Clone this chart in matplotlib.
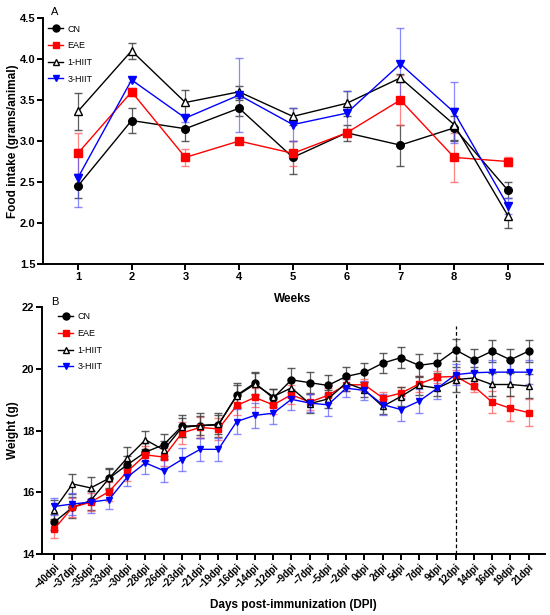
import matplotlib
matplotlib.use("Agg")
import matplotlib.pyplot as plt
from matplotlib.lines import Line2D
import numpy as np

plt.rcParams['font.family'] = ['Liberation Sans', 'DejaVu Sans']

# ---------------- Panel A data ----------------
weeks = [1, 2, 3, 4, 5, 6, 7, 8, 9]
cn_a = [2.45, 3.25, 3.15, 3.40, 2.80, 3.10, 2.95, 3.16, 2.40]
cn_a_err = [0.15, 0.15, 0.15, 0.10, 0.20, 0.10, 0.25, 0.15, 0.10]
eae_a = [2.85, 3.60, 2.80, 3.00, 2.85, 3.10, 3.50, 2.80, 2.75]
eae_a_err = [0.25, 0.05, 0.10, 0.03, 0.15, 0.05, 0.30, 0.30, 0.05]
h1_a = [3.36, 4.10, 3.47, 3.60, 3.30, 3.46, 3.77, 3.20, 2.09]
h1_a_err = [0.23, 0.10, 0.15, 0.07, 0.10, 0.15, 0.05, 0.20, 0.15]
h3_a = [2.55, 3.745, 3.28, 3.56, 3.20, 3.34, 3.94, 3.35, 2.21]
h3_a_err = [0.35, 0.03, 0.05, 0.45, 0.20, 0.27, 0.44, 0.37, 0.10]

# ---------------- Panel B data ----------------
dpi_labels = ["−40dpi", "−37dpi", "−35dpi", "−33dpi", "−30dpi", "−28dpi", "−26dpi",
              "−23dpi", "−21dpi", "−19dpi", "−16dpi", "−14dpi", "−12dpi", "−9dpi",
              "−7dpi", "−5dpi", "−2dpi", "0dpi", "2dpi", "5dpi", "7dpi", "9dpi",
              "12dpi", "14dpi", "16dpi", "19dpi", "21dpi"]
cn_b = [15.03, 15.51, 15.73, 16.45, 16.89, 17.30, 17.54, 18.14, 18.16, 18.18, 19.14, 19.54,
        19.05, 19.64, 19.55, 19.46, 19.75, 19.88, 20.18, 20.36, 20.11, 20.19, 20.61, 20.29,
        20.57, 20.29, 20.57]
cn_b_err = [0.25, 0.35, 0.30, 0.30, 0.30, 0.30, 0.35, 0.35, 0.40, 0.40, 0.40, 0.35, 0.30,
            0.40, 0.35, 0.35, 0.30, 0.30, 0.32, 0.35, 0.37, 0.32, 0.35, 0.35, 0.35, 0.35, 0.35]
eae_b = [14.81, 15.51, 15.68, 16.02, 16.67, 17.21, 17.14, 17.92, 18.10, 18.05, 18.81, 19.07,
         18.83, 19.16, 18.92, 19.14, 19.48, 19.48, 19.06, 19.21, 19.51, 19.73, 19.75, 19.43,
         18.92, 18.72, 18.58]
eae_b_err = [0.28, 0.30, 0.30, 0.30, 0.30, 0.30, 0.30, 0.35, 0.35, 0.35, 0.30, 0.30, 0.30,
             0.30, 0.25, 0.25, 0.20, 0.20, 0.20, 0.20, 0.25, 0.20, 0.20, 0.18, 0.35, 0.41, 0.45]
h1_b = [15.44, 16.27, 16.14, 16.45, 17.11, 17.70, 17.37, 18.10, 18.16, 18.20, 19.12, 19.50,
        19.10, 19.38, 18.87, 19.02, 19.54, 19.32, 18.78, 19.10, 19.46, 19.37, 19.65, 19.70,
        19.49, 19.49, 19.44]
h1_b_err = [0.30, 0.32, 0.35, 0.35, 0.35, 0.30, 0.30, 0.30, 0.30, 0.30, 0.35, 0.35, 0.25,
            0.30, 0.30, 0.30, 0.25, 0.25, 0.25, 0.30, 0.30, 0.25, 0.40, 0.35, 0.38, 0.38, 0.38]
h3_b = [15.54, 15.62, 15.68, 15.76, 16.49, 16.95, 16.70, 17.06, 17.39, 17.39, 18.29, 18.49,
        18.56, 19.01, 18.89, 18.83, 19.37, 19.30, 18.84, 18.68, 18.95, 19.37, 19.81, 19.87,
        19.89, 19.89, 19.89]
h3_b_err = [0.27, 0.35, 0.35, 0.30, 0.30, 0.36, 0.36, 0.38, 0.38, 0.38, 0.40, 0.40, 0.35,
            0.35, 0.30, 0.35, 0.30, 0.30, 0.35, 0.38, 0.38, 0.35, 0.35, 0.35, 0.40, 0.40, 0.40]
vline_label = "12dpi"

series_names = ["CN", "EAE", "1-HIIT", "3-HIIT"]

styles = {
    "CN": dict(color="black", marker="o", mfc="black", ecolor=(0.25, 0.25, 0.25, 0.85)),
    "EAE": dict(color="#ff0000", marker="s", mfc="#ff0000", ecolor=(1.0, 0.35, 0.35, 0.75)),
    "1-HIIT": dict(color="black", marker="^", mfc="white", ecolor=(0.25, 0.25, 0.25, 0.85)),
    "3-HIIT": dict(color="#0000ff", marker="v", mfc="#0000ff", ecolor=(0.35, 0.35, 1.0, 0.7)),
}

fig = plt.figure(figsize=(5.5, 6.15), dpi=100)
axA = fig.add_axes([0.078, 0.5707, 0.909, 0.400])
axB = fig.add_axes([0.0764, 0.0992, 0.9145, 0.4016])


def draw(ax, x, data, ms):
    for name, (y, e) in zip(series_names, data):
        st = styles[name]
        ax.errorbar(x, y, yerr=e, color=st["color"], marker=st["marker"],
                    mfc=st["mfc"], mec=st["color"], ms=ms, mew=1.0, lw=1.0,
                    ecolor=st["ecolor"], elinewidth=0.9, capsize=3, capthick=0.9,
                    zorder=3)


def style_axes(ax):
    for s in ["top", "right"]:
        ax.spines[s].set_visible(False)
    for s in ["left", "bottom"]:
        ax.spines[s].set_linewidth(1.4)
    ax.tick_params(axis="both", width=1.4, length=4, direction="out", pad=1.5)
    for lab in ax.get_yticklabels() + ax.get_xticklabels():
        lab.set_fontweight("bold")


def add_legend(ax, anchor):
    handles = []
    for name in series_names:
        st = styles[name]
        handles.append(Line2D([], [], color=st["color"], marker=st["marker"],
                              mfc=st["mfc"], mec=st["color"], ms=5, lw=1.0))
    ax.legend(handles, series_names, loc="upper left", bbox_to_anchor=anchor,
              bbox_transform=fig.transFigure, frameon=False, fontsize=6.5,
              handlelength=1.6, handletextpad=0.5, labelspacing=0.85,
              borderpad=0, borderaxespad=0)


# ---- Panel A ----
draw(axA, weeks, [(cn_a, cn_a_err), (eae_a, eae_a_err), (h1_a, h1_a_err), (h3_a, h3_a_err)], 5.5)
axA.set_xlim(0.35, 9.65)
axA.set_ylim(1.5, 4.5)
axA.set_xticks(weeks)
axA.set_yticks(np.arange(1.5, 4.51, 0.5))
axA.set_yticklabels([f"{v:.1f}" for v in np.arange(1.5, 4.51, 0.5)], fontsize=8)
axA.set_xticklabels([str(w) for w in weeks], fontsize=8)
axA.set_xlabel("Weeks", fontsize=8.5, fontweight="bold", labelpad=8)
axA.set_ylabel("Food intake (grams/animal)", fontsize=8.5, fontweight="bold")
axA.yaxis.set_label_coords(-0.048, 0.5)
style_axes(axA)
add_legend(axA, (0.088, 0.960))
fig.text(0.100, 0.980, "A", fontsize=8, ha="center", va="center")

# ---- Panel B ----
xb = np.arange(len(dpi_labels))
draw(axB, xb, [(cn_b, cn_b_err), (eae_b, eae_b_err), (h1_b, h1_b_err), (h3_b, h3_b_err)], 5)
vx = dpi_labels.index(vline_label)
axB.vlines(vx, 14, 21.4, colors="black", linestyles=(0, (3, 2)), lw=0.9, zorder=2)
axB.set_xlim(-0.67, 26.9)
axB.set_ylim(14, 22)
axB.set_xticks(xb)
axB.set_xticklabels(dpi_labels, rotation=45, ha="right", rotation_mode="anchor", fontsize=7)
axB.set_yticks([14, 16, 18, 20, 22])
axB.set_yticklabels(["14", "16", "18", "20", "22"], fontsize=8)
axB.set_xlabel("Days post-immunization (DPI)", fontsize=8.5, fontweight="bold", labelpad=6)
axB.set_ylabel("Weight (g)", fontsize=8.5, fontweight="bold")
axB.yaxis.set_label_coords(-0.046, 0.5)
style_axes(axB)
add_legend(axB, (0.106, 0.492))
fig.text(0.100, 0.509, "B", fontsize=8, ha="center", va="center")

fig.savefig("out.png", dpi=100)
